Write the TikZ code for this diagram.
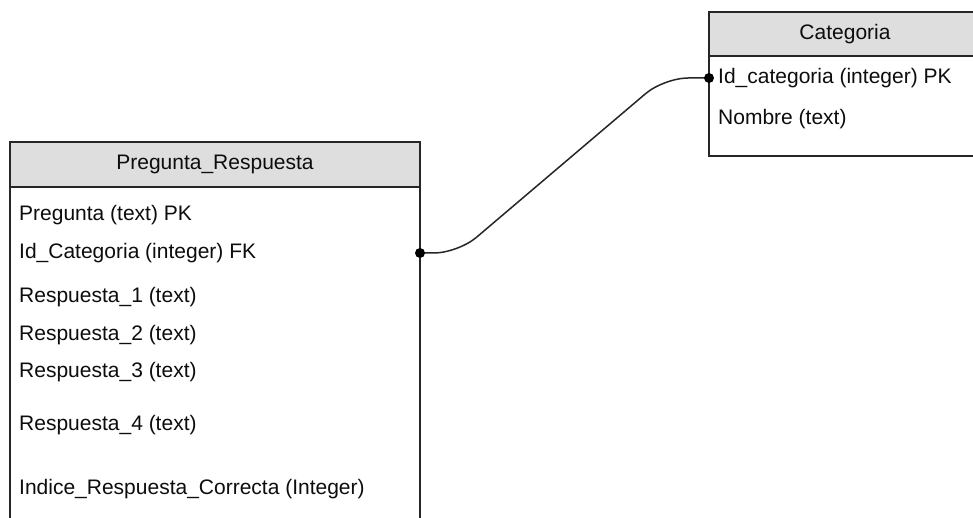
\documentclass[tikz,border=0pt]{standalone}
\usepackage{fontspec}
\setmainfont{Liberation Sans}
\begin{document}
\begin{tikzpicture}[x=1pt,y=-1pt,
  tableline/.style={draw=black!85, line width=1.3pt},
  headfill/.style={fill=black!13},
  headtext/.style={anchor=base, inner sep=0pt, text=black!95, font=\fontsize{21}{25}\selectfont},
  field/.style={anchor=base west, inner sep=0pt, text=black!95, font=\fontsize{21}{25}\selectfont},
  link/.style={draw=black!85, line width=1.5pt, rounded corners=24pt},
  joint/.style={fill=black, draw=none, circle, minimum size=10pt, inner sep=0pt}
]
\useasboundingbox (0,0) rectangle (973,518);
\fill[white] (0,0) rectangle (973,518);
\clip (0,0) rectangle (973,518);

% Pregunta_Respuesta table
\fill[headfill] (10,142) rectangle (420,187);
\draw[tableline] (10,530) -- (10,142) -- (420,142) -- (420,530);
\draw[tableline] (10,187) -- (420,187);
\node[headtext] (prhead) at (215,170) {Pregunta\_Respuesta};
\node[field] (prf1) at (19,221) {Pregunta (text) PK};
\node[field] (prf2) at (19,259) {Id\_Categoria (integer) FK};
\node[field] (prf3) at (19,302) {Respuesta\_1 (text)};
\node[field] (prf4) at (19,340) {Respuesta\_2 (text)};
\node[field] (prf5) at (19,377) {Respuesta\_3 (text)};
\node[field] (prf6) at (19,430) {Respuesta\_4 (text)};
\node[field] (prf7) at (19,494) {Indice\_Respuesta\_Correcta (Integer)};

% Categoria table
\fill[headfill] (709,12) rectangle (981,56);
\draw[tableline] (709,12) rectangle (981,156);
\draw[tableline] (709,56) -- (981,56);
\node[headtext] (cathead) at (845,40) {Categoria};
\node[field] (catf1) at (718,84) {Id\_categoria (integer) PK};
\node[field] (catf2) at (718,125) {Nombre (text)};

% relationship between the FK and the PK
\coordinate (fkend) at (420,253);
\coordinate (pkend) at (709,78);
\draw[link] (fkend) -- (458,253) -- (664,78) -- (pkend);
\node[joint] (fkdot) at (fkend) {};
\node[joint] (pkdot) at (pkend) {};
\end{tikzpicture}
\end{document}
